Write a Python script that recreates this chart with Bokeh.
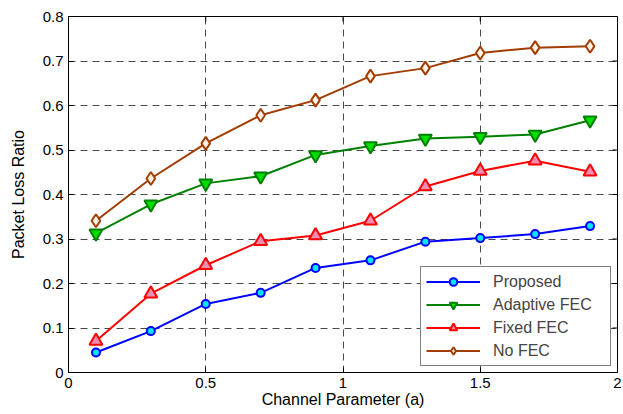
import math
from bokeh.plotting import figure
from bokeh.models import (FixedTicker, CustomJSTickFormatter, Legend,
                          LegendItem, Range1d)
from bokeh.embed import file_html
from bokeh.resources import INLINE

x_vals = [0.1, 0.3, 0.5, 0.7, 0.9, 1.1, 1.3, 1.5, 1.7, 1.9]
proposed = [0.045, 0.093, 0.154, 0.179, 0.235, 0.252, 0.294, 0.302, 0.311, 0.329]
adaptive_fec = [0.313, 0.378, 0.425, 0.441, 0.489, 0.509, 0.526, 0.530, 0.535, 0.567]
fixed_fec = [0.071, 0.177, 0.241, 0.295, 0.308, 0.341, 0.418, 0.453, 0.476, 0.451]
no_fec = [0.341, 0.436, 0.515, 0.578, 0.612, 0.666, 0.684, 0.718, 0.730, 0.733]

x_ticks = [0, 0.5, 1, 1.5, 2]
y_ticks = [0, 0.1, 0.2, 0.3, 0.4, 0.5, 0.6, 0.7, 0.8]
x_min, x_max = 0, 2
y_min, y_max = 0, 0.8

FONT = "Liberation Sans"

p = figure(width=623, height=414, output_backend="svg", toolbar_location=None,
           x_range=Range1d(x_min, x_max), y_range=Range1d(y_min, y_max),
           min_border_left=68, min_border_right=6, min_border_top=16, min_border_bottom=42)
p.background_fill_color = "white"
p.border_fill_color = "white"
p.outline_line_color = "black"
p.outline_line_width = 1

fmt = CustomJSTickFormatter(code="return String(Math.round(tick*10)/10)")

for ax, ticks in ((p.xaxis[0], x_ticks), (p.yaxis[0], y_ticks)):
    ax.ticker = FixedTicker(ticks=ticks)
    ax.formatter = fmt
    ax.major_tick_in = 5
    ax.major_tick_out = 0
    ax.minor_tick_line_color = None
    ax.axis_line_color = "black"
    ax.major_tick_line_color = "black"
    ax.major_label_text_font = FONT
    ax.major_label_text_font_size = "15px"
    ax.major_label_text_color = "black"
    ax.axis_label_text_font = FONT
    ax.axis_label_text_font_size = "16px"
    ax.axis_label_text_font_style = "normal"
    ax.axis_label_text_color = "black"

p.xaxis[0].axis_label = "Channel Parameter (a)"
p.xaxis[0].major_label_standoff = 5
p.xaxis[0].axis_label_standoff = 0
p.yaxis[0].axis_label = "Packet Loss Ratio"
p.yaxis[0].major_label_standoff = 5
p.yaxis[0].axis_label_standoff = 13

p.xgrid.ticker = FixedTicker(ticks=x_ticks)
p.ygrid.ticker = FixedTicker(ticks=y_ticks)
for g in (p.xgrid[0], p.ygrid[0]):
    g.grid_line_color = "#4a4a4a"
    g.grid_line_dash = "7 5"
    g.grid_line_width = 1

# inward ticks on the top and right edges of the box
p.scatter(x_ticks, [y_max] * len(x_ticks), marker="dash", angle=math.pi / 2,
          size=10, line_color="black", line_width=1)
p.scatter([x_max] * len(y_ticks), y_ticks, marker="dash",
          size=10, line_color="black", line_width=1)

series = [
    ("Proposed", proposed, "#0000ff", "#00e5ff", "circle", 8),
    ("Adaptive FEC", adaptive_fec, "#008000", "#00e000", "inverted_triangle", 13),
    ("Fixed FEC", fixed_fec, "#ff0000", "#f28cb0", "triangle", 13),
    ("No FEC", no_fec, "#a33c00", "#fff4e6", "diamond", 13),
]

items = []
for name, ys, lc, fc, marker, size in series:
    r1 = p.line(x_vals, ys, line_color=lc, line_width=2)
    r2 = p.scatter(x_vals, ys, marker=marker, size=size, line_color=lc,
                   fill_color=fc, line_width=2)
    items.append(LegendItem(label=name, renderers=[r1, r2]))

legend = Legend(items=items, location="bottom_right", margin=6,
                padding=5, spacing=4, label_height=19, glyph_height=19,
                glyph_width=54, label_standoff=13, label_width=112,
                label_text_font=FONT, label_text_font_size="16px",
                border_line_color="black", border_line_width=1,
                background_fill_color="white", background_fill_alpha=1)
p.add_layout(legend)

open("out.html", "w").write(file_html(p, INLINE))
